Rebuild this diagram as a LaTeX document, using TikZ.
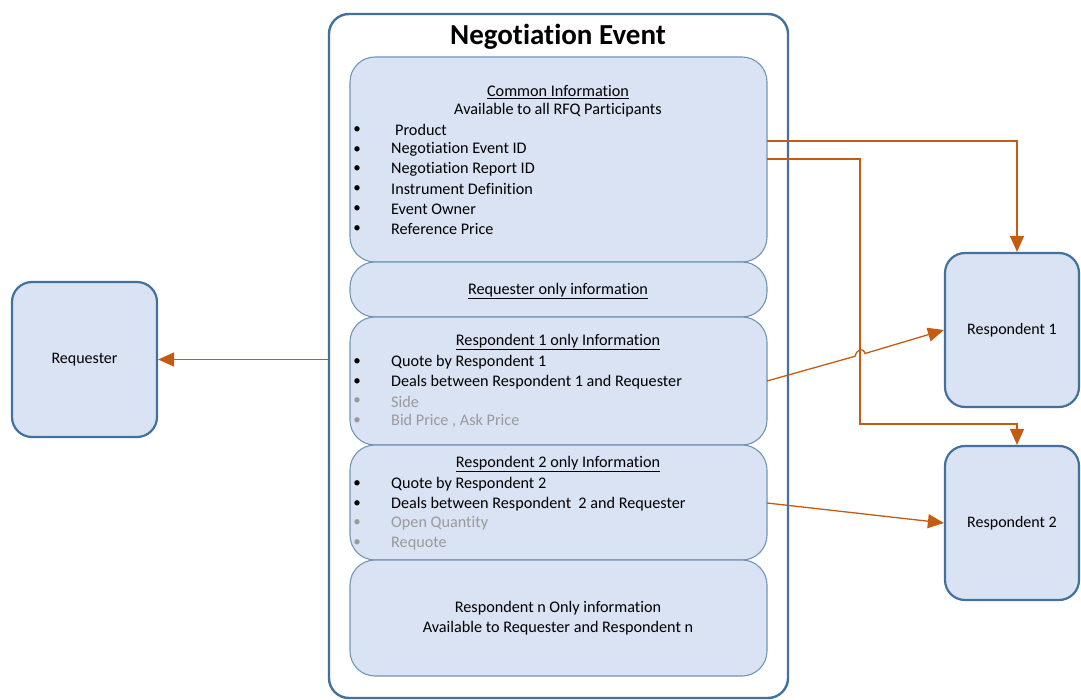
\documentclass[tikz,border=0pt]{standalone}
\usepackage{fontspec}
\setmainfont{Carlito}[Ligatures=NoCommon]
\usetikzlibrary{arrows.meta}
\definecolor{boxfill}{HTML}{DAE3F3}
\definecolor{boxline}{HTML}{41719C}
\definecolor{flowline}{HTML}{C55A11}
\definecolor{faded}{HTML}{9A9A9A}
\tikzstyle{event} = [rectangle, rounded corners=20pt, draw=boxline, line width=2.4pt,
minimum width=459pt, minimum height=684pt]
\tikzstyle{party} = [rectangle, rounded corners=20pt, fill=boxfill, draw=boxline,
line width=2.2pt, minimum width=145pt, minimum height=155pt,
font=\fontsize{16}{16}\selectfont]
\tikzstyle{infobox} = [rectangle, rounded corners=25pt, fill=boxfill,
draw=boxline!75, line width=1.1pt, minimum width=417pt]
\tikzstyle{entry} = [anchor=west, inner sep=0pt, font=\fontsize{16.2}{18}\selectfont]
\tikzstyle{dot} = [inner sep=0pt, font=\fontsize{15}{18}\selectfont]
\tikzstyle{head} = [inner sep=0pt, font=\fontsize{16.2}{18}\selectfont]
\tikzstyle{link} = [draw=flowline, line width=1.3pt]
\tikzset{>={Triangle[length=16pt,width=14pt]}}

\begin{document}
\begin{tikzpicture}[x=1pt,y=-1pt]
  \useasboundingbox (0,0) rectangle (1081,700);
  % negotiation event and its parts
  \node[event] (neg) at (558.5,356) {};
  \node[font=\fontsize{29}{29}\selectfont\bfseries] (title) at (558,37) {Negotiation Event};
  \node[infobox, minimum height=205pt] (common) at (558.5,159.5) {};
  \node[infobox, minimum height=55pt] (reqonly) at (558.5,289.5) {};
  \node[infobox, minimum height=128pt] (r1info) at (558.5,381) {};
  \node[infobox, minimum height=115pt] (r2info) at (558.5,502.5) {};
  \node[infobox, minimum height=116pt] (rninfo) at (558.5,618) {};

  % common information
  \node[head] (cih) at (558,92) {\underline{Common Information}};
  \node[head] (cis) at (558,110) {Available to all RFQ Participants};
  \foreach \txt [count=\i] in {\hspace{4pt}Product, Negotiation Event ID,
    Negotiation Report ID, Instrument Definition, Event Owner, Reference Price} {
    \node[dot] (cb\i) at (357,{110+19.8*\i}) {\textbullet};
    \node[entry] (ce\i) at (391,{110+19.8*\i}) {\txt};
  }

  \node[head] (rqh) at (558,291) {\underline{Requester only information}};

  % respondent 1
  \node[head] (r1h) at (558,342) {\underline{Respondent 1 only Information}};
  \foreach \txt/\col [count=\i] in {Quote by Respondent 1/black,
    Deals between Respondent 1 and Requester/black, Side/faded,
    {Bid Price , Ask Price}/faded} {
    \node[dot, text=\col] (r1b\i) at (357,{342.4+19.7*\i}) {\textbullet};
    \node[entry, text=\col] (r1e\i) at (391,{342.4+19.7*\i}) {\txt};
  }

  % respondent 2
  \node[head] (r2h) at (558,464) {\underline{Respondent 2 only Information}};
  \foreach \txt/\col [count=\i] in {Quote by Respondent 2/black,
    Deals between Respondent\ \ 2 and Requester/black, Open Quantity/faded,
    Requote/faded} {
    \node[dot, text=\col] (r2b\i) at (357,{464.4+19.7*\i}) {\textbullet};
    \node[entry, text=\col] (r2e\i) at (391,{464.4+19.7*\i}) {\txt};
  }

  % respondent n
  \node[head] (rnh) at (558,608) {Respondent n Only information};
  \node[head] (rns) at (558,628) {Available to Requester and Respondent n};

  % participants
  \node[party] (req) at (84.5,359.5) {Requester};
  \node[party, minimum width=134pt, minimum height=154pt] (resp1) at (1012,330) {Respondent 1};
  \node[party, minimum width=134pt, minimum height=154pt] (resp2) at (1012,523) {Respondent 2};

  % flows
  \coordinate (c1) at (767,141);
  \coordinate (c2) at (767,159);
  \coordinate (c3) at (767,381);
  \coordinate (c4) at (767,503);
  \draw[link,->] (neg.west |- req.east) -- (req.east);
  \draw[link,->] (c1) -| ([xshift=5pt]resp1.north);
  \draw[link,->] (c2) -- (860,159) -- (860,424) -| ([xshift=5pt]resp2.north);
  \draw[link,->] (c3) -- (855,356.3) .. controls (857,349) and (863,347) .. (865,353.5)
    -- (resp1.west);
  \draw[link,->] (c4) -- (resp2.west);
\end{tikzpicture}
\end{document}
